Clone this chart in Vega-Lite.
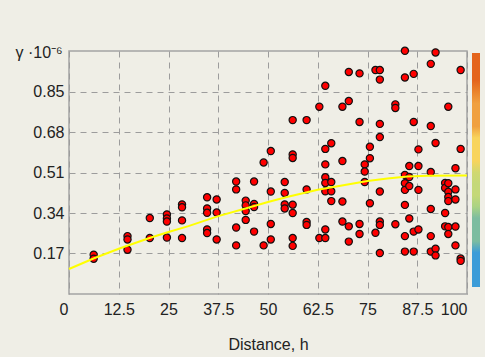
{
  "$schema": "https://vega.github.io/schema/vega-lite/v6.json",
  "autosize": {"type": "none"},
  "width": 398,
  "height": 243,
  "padding": {"left": 69, "top": 51, "right": 18, "bottom": 63},
  "background": "#efeee6",
  "config": {
    "view": {"fill": "#efeee6", "stroke": "#a4a4a4", "strokeWidth": 1.5},
    "font": "Liberation Sans",
    "axis": {
      "domain": false,
      "ticks": false,
      "grid": true,
      "gridColor": "#9c9c9c",
      "gridDash": [6, 5],
      "gridWidth": 1,
      "labelFont": "Liberation Sans",
      "labelFontSize": 16,
      "labelColor": "#222222",
      "titleFont": "Liberation Sans",
      "titleFontSize": 16,
      "titleFontWeight": "normal",
      "titleColor": "#222222"
    }
  },
  "datasets": {
    "cloud": [
      {"h": 6.2, "gamma": 0.165}, {"h": 6.2, "gamma": 0.148},
      {"h": 14.7, "gamma": 0.243}, {"h": 14.7, "gamma": 0.229}, {"h": 14.7, "gamma": 0.186},
      {"h": 20.3, "gamma": 0.319}, {"h": 20.3, "gamma": 0.235},
      {"h": 24.6, "gamma": 0.334}, {"h": 24.6, "gamma": 0.317}, {"h": 24.6, "gamma": 0.304}, {"h": 24.6, "gamma": 0.237},
      {"h": 28.4, "gamma": 0.376}, {"h": 28.4, "gamma": 0.364}, {"h": 28.4, "gamma": 0.309}, {"h": 28.4, "gamma": 0.235},
      {"h": 34.7, "gamma": 0.406}, {"h": 34.7, "gamma": 0.359}, {"h": 34.7, "gamma": 0.341}, {"h": 34.7, "gamma": 0.271}, {"h": 34.7, "gamma": 0.256},
      {"h": 37.1, "gamma": 0.397}, {"h": 37.1, "gamma": 0.342}, {"h": 37.1, "gamma": 0.229},
      {"h": 42.0, "gamma": 0.472}, {"h": 42.0, "gamma": 0.439}, {"h": 42.0, "gamma": 0.279}, {"h": 42.0, "gamma": 0.204},
      {"h": 44.4, "gamma": 0.392}, {"h": 44.4, "gamma": 0.372}, {"h": 44.4, "gamma": 0.348}, {"h": 44.4, "gamma": 0.311},
      {"h": 46.5, "gamma": 0.472}, {"h": 46.5, "gamma": 0.378}, {"h": 46.5, "gamma": 0.365}, {"h": 46.5, "gamma": 0.262},
      {"h": 48.9, "gamma": 0.552}, {"h": 48.9, "gamma": 0.204},
      {"h": 50.7, "gamma": 0.600}, {"h": 50.7, "gamma": 0.430}, {"h": 50.7, "gamma": 0.294}, {"h": 50.7, "gamma": 0.229},
      {"h": 54.2, "gamma": 0.470}, {"h": 54.2, "gamma": 0.424}, {"h": 54.2, "gamma": 0.376}, {"h": 54.2, "gamma": 0.359},
      {"h": 56.2, "gamma": 0.730}, {"h": 56.2, "gamma": 0.586}, {"h": 56.2, "gamma": 0.571}, {"h": 56.2, "gamma": 0.375}, {"h": 56.2, "gamma": 0.340}, {"h": 56.2, "gamma": 0.235}, {"h": 56.2, "gamma": 0.202},
      {"h": 59.7, "gamma": 0.730}, {"h": 59.7, "gamma": 0.439}, {"h": 59.7, "gamma": 0.302}, {"h": 59.7, "gamma": 0.290},
      {"h": 62.9, "gamma": 0.786}, {"h": 62.9, "gamma": 0.235},
      {"h": 64.4, "gamma": 0.874}, {"h": 64.4, "gamma": 0.609}, {"h": 64.4, "gamma": 0.544}, {"h": 64.4, "gamma": 0.490}, {"h": 64.4, "gamma": 0.466}, {"h": 64.4, "gamma": 0.431}, {"h": 64.4, "gamma": 0.271}, {"h": 64.4, "gamma": 0.235},
      {"h": 65.9, "gamma": 0.633}, {"h": 65.9, "gamma": 0.470}, {"h": 65.9, "gamma": 0.431}, {"h": 65.9, "gamma": 0.390},
      {"h": 68.7, "gamma": 0.786}, {"h": 68.7, "gamma": 0.558}, {"h": 68.7, "gamma": 0.388}, {"h": 68.7, "gamma": 0.304},
      {"h": 70.3, "gamma": 0.932}, {"h": 70.3, "gamma": 0.810}, {"h": 70.3, "gamma": 0.284}, {"h": 70.3, "gamma": 0.220},
      {"h": 73.0, "gamma": 0.926}, {"h": 73.0, "gamma": 0.722}, {"h": 73.0, "gamma": 0.294}, {"h": 73.0, "gamma": 0.252},
      {"h": 74.3, "gamma": 0.544}, {"h": 74.3, "gamma": 0.514}, {"h": 74.3, "gamma": 0.470},
      {"h": 75.6, "gamma": 0.618}, {"h": 75.6, "gamma": 0.570}, {"h": 75.6, "gamma": 0.381},
      {"h": 77.0, "gamma": 0.940}, {"h": 77.0, "gamma": 0.257},
      {"h": 78.1, "gamma": 0.940}, {"h": 78.1, "gamma": 0.900}, {"h": 78.1, "gamma": 0.714}, {"h": 78.1, "gamma": 0.659}, {"h": 78.1, "gamma": 0.430}, {"h": 78.1, "gamma": 0.304}, {"h": 78.1, "gamma": 0.290}, {"h": 78.1, "gamma": 0.172},
      {"h": 82.0, "gamma": 0.796}, {"h": 82.0, "gamma": 0.781}, {"h": 82.0, "gamma": 0.293},
      {"h": 84.4, "gamma": 1.021}, {"h": 84.4, "gamma": 0.909}, {"h": 84.4, "gamma": 0.500}, {"h": 84.4, "gamma": 0.465}, {"h": 84.4, "gamma": 0.437}, {"h": 84.4, "gamma": 0.374}, {"h": 84.4, "gamma": 0.243}, {"h": 84.4, "gamma": 0.178},
      {"h": 85.5, "gamma": 0.537}, {"h": 85.5, "gamma": 0.491}, {"h": 85.5, "gamma": 0.453}, {"h": 85.5, "gamma": 0.317},
      {"h": 86.6, "gamma": 0.924}, {"h": 86.6, "gamma": 0.722}, {"h": 86.6, "gamma": 0.262}, {"h": 86.6, "gamma": 0.178},
      {"h": 87.8, "gamma": 0.607}, {"h": 87.8, "gamma": 0.537}, {"h": 87.8, "gamma": 0.437}, {"h": 87.8, "gamma": 0.271},
      {"h": 90.9, "gamma": 0.966}, {"h": 90.9, "gamma": 0.705}, {"h": 90.9, "gamma": 0.512}, {"h": 90.9, "gamma": 0.357}, {"h": 90.9, "gamma": 0.243}, {"h": 90.9, "gamma": 0.178},
      {"h": 92.1, "gamma": 1.014}, {"h": 92.1, "gamma": 0.634}, {"h": 92.1, "gamma": 0.190}, {"h": 92.1, "gamma": 0.162},
      {"h": 94.5, "gamma": 0.466}, {"h": 94.5, "gamma": 0.445}, {"h": 94.5, "gamma": 0.340}, {"h": 94.5, "gamma": 0.284},
      {"h": 95.3, "gamma": 0.786}, {"h": 95.3, "gamma": 0.465}, {"h": 95.3, "gamma": 0.429}, {"h": 95.3, "gamma": 0.407}, {"h": 95.3, "gamma": 0.390}, {"h": 95.3, "gamma": 0.281}, {"h": 95.3, "gamma": 0.252},
      {"h": 97.1, "gamma": 0.528}, {"h": 97.1, "gamma": 0.439}, {"h": 97.1, "gamma": 0.397}, {"h": 97.1, "gamma": 0.283}, {"h": 97.1, "gamma": 0.204},
      {"h": 98.4, "gamma": 0.940}, {"h": 98.4, "gamma": 0.609}, {"h": 98.4, "gamma": 0.149}, {"h": 98.4, "gamma": 0.139}
    ],
    "model": [
      {"h": 0, "gamma": 0.105}, {"h": 6.3, "gamma": 0.150}, {"h": 12.5, "gamma": 0.190},
      {"h": 20.4, "gamma": 0.236}, {"h": 25, "gamma": 0.260}, {"h": 30, "gamma": 0.285},
      {"h": 37.5, "gamma": 0.327}, {"h": 45, "gamma": 0.362}, {"h": 50, "gamma": 0.386},
      {"h": 55, "gamma": 0.408}, {"h": 62.5, "gamma": 0.438}, {"h": 70, "gamma": 0.460},
      {"h": 75, "gamma": 0.474}, {"h": 80, "gamma": 0.485}, {"h": 85, "gamma": 0.493},
      {"h": 90, "gamma": 0.496}, {"h": 100, "gamma": 0.497}
    ]
  },
  "layer": [
    {
      "data": {"name": "cloud"},
      "mark": {"type": "point", "filled": true, "opacity": 0},
      "encoding": {
        "x": {"field": "h", "type": "quantitative"},
        "y": {"field": "gamma", "type": "quantitative"},
        "color": {
          "field": "gamma",
          "type": "quantitative",
          "scale": {"type": "linear", "nice": false, "zero": false,
            "domain": [0, 0.15, 0.19, 0.32, 0.36, 0.49, 0.53, 0.66, 0.70, 0.83, 0.87, 1.02],
            "range": ["#3c9cd8", "#3c9cd8", "#7cbca0", "#7cbca0", "#c4d878", "#c4d878", "#f8d45c", "#f8d45c", "#f0a040", "#f0a040", "#e4641c", "#e4641c"]},
          "legend": {"orient": "none", "legendX": 403, "legendY": 2, "direction": "vertical", "type": "gradient",
            "gradientLength": 234, "gradientThickness": 8, "title": null,
            "labelExpr": "''", "labelOpacity": 0, "labelOffset": 0, "labelOverlap": false,
            "gradientStrokeWidth": 0, "padding": 0}
        }
      }
    },
    {
      "data": {"name": "cloud"},
      "mark": {"type": "circle", "fill": "#ff0000", "stroke": "#111111", "strokeWidth": 1.2, "size": 52, "opacity": 1},
      "encoding": {
        "x": {
          "field": "h", "type": "quantitative",
          "scale": {"domain": [0, 100], "nice": false, "zero": false},
          "axis": {
            "values": [0, 12.5, 25, 37.5, 50, 62.5, 75, 87.5, 100],
            "format": ".1~f",
            "labelPadding": 7,
            "labelOffset": {"condition": {"test": "datum.value == 0", "value": -10}, "value": 0},
            "title": "Distance, h",
            "titleY": 55,
            "titleBaseline": "alphabetic"
          }
        },
        "y": {
          "field": "gamma", "type": "quantitative",
          "scale": {"domain": [0, 1.02], "nice": false, "zero": false},
          "axis": {
            "values": [0.17, 0.34, 0.51, 0.68, 0.85],
            "format": ".2f",
            "labelPadding": 5,
            "title": "γ ·10⁻⁶",
            "titleAngle": 0,
            "titleAlign": "left",
            "titleBaseline": "alphabetic",
            "titleX": -54,
            "titleY": 6
          }
        }
      }
    },
    {
      "data": {"name": "model"},
      "mark": {"type": "line", "color": "#ffff00", "strokeWidth": 2},
      "encoding": {
        "x": {"field": "h", "type": "quantitative"},
        "y": {"field": "gamma", "type": "quantitative"}
      }
    }
  ]
}
